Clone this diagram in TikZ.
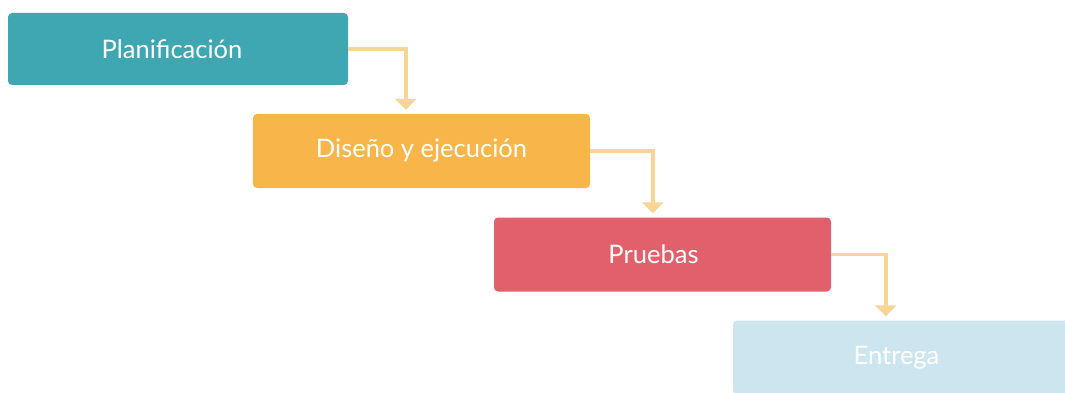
\documentclass[tikz,border=0pt]{standalone}
\usepackage{fontspec}
\setmainfont{Lato}
\usetikzlibrary{arrows.meta}
\definecolor{cteal}{HTML}{3EA7B1}
\definecolor{corange}{HTML}{F8B549}
\definecolor{cred}{HTML}{E2606B}
\definecolor{cblue}{HTML}{CDE5EF}
\definecolor{carrow}{HTML}{F9D595}
\tikzset{
  stagebox/.style={rectangle, rounded corners=4pt, minimum width=337pt, minimum height=74pt,
    inner sep=0pt, text=white, font=\fontsize{25.5}{28}\selectfont},
  conn/.style={draw=carrow, line width=3.5pt, -{Triangle[width=21pt,length=11pt]}, shorten >=4pt}
}
\begin{document}
\begin{tikzpicture}[x=1pt,y=-1pt]
\useasboundingbox (0,0) rectangle (1065,393);
\fill[white] (0,0) rectangle (1065,393);
\clip (0,0) rectangle (1065,393);
\node[stagebox, fill=cteal, minimum width=340pt, minimum height=72pt] (b1) at (178,49) {\hspace*{-12pt}Planificación};
\node[stagebox, fill=corange] (b2) at (421.5,151) {Diseño y ejecución};
\node[stagebox, fill=cred] (b3) at (662.5,254.5) {\hspace*{-18pt}Pruebas};
\node[stagebox, fill=cblue] (b4) at (901.5,357.5) {\hspace*{-10pt}Entrega};
\draw[conn] (b1.east) -| ([xshift=153pt]b2.north west);
\draw[conn] (b2.east) -| ([xshift=159pt]b3.north west);
\draw[conn] (b3.east) -| ([xshift=153pt]b4.north west);
\end{tikzpicture}
\end{document}
